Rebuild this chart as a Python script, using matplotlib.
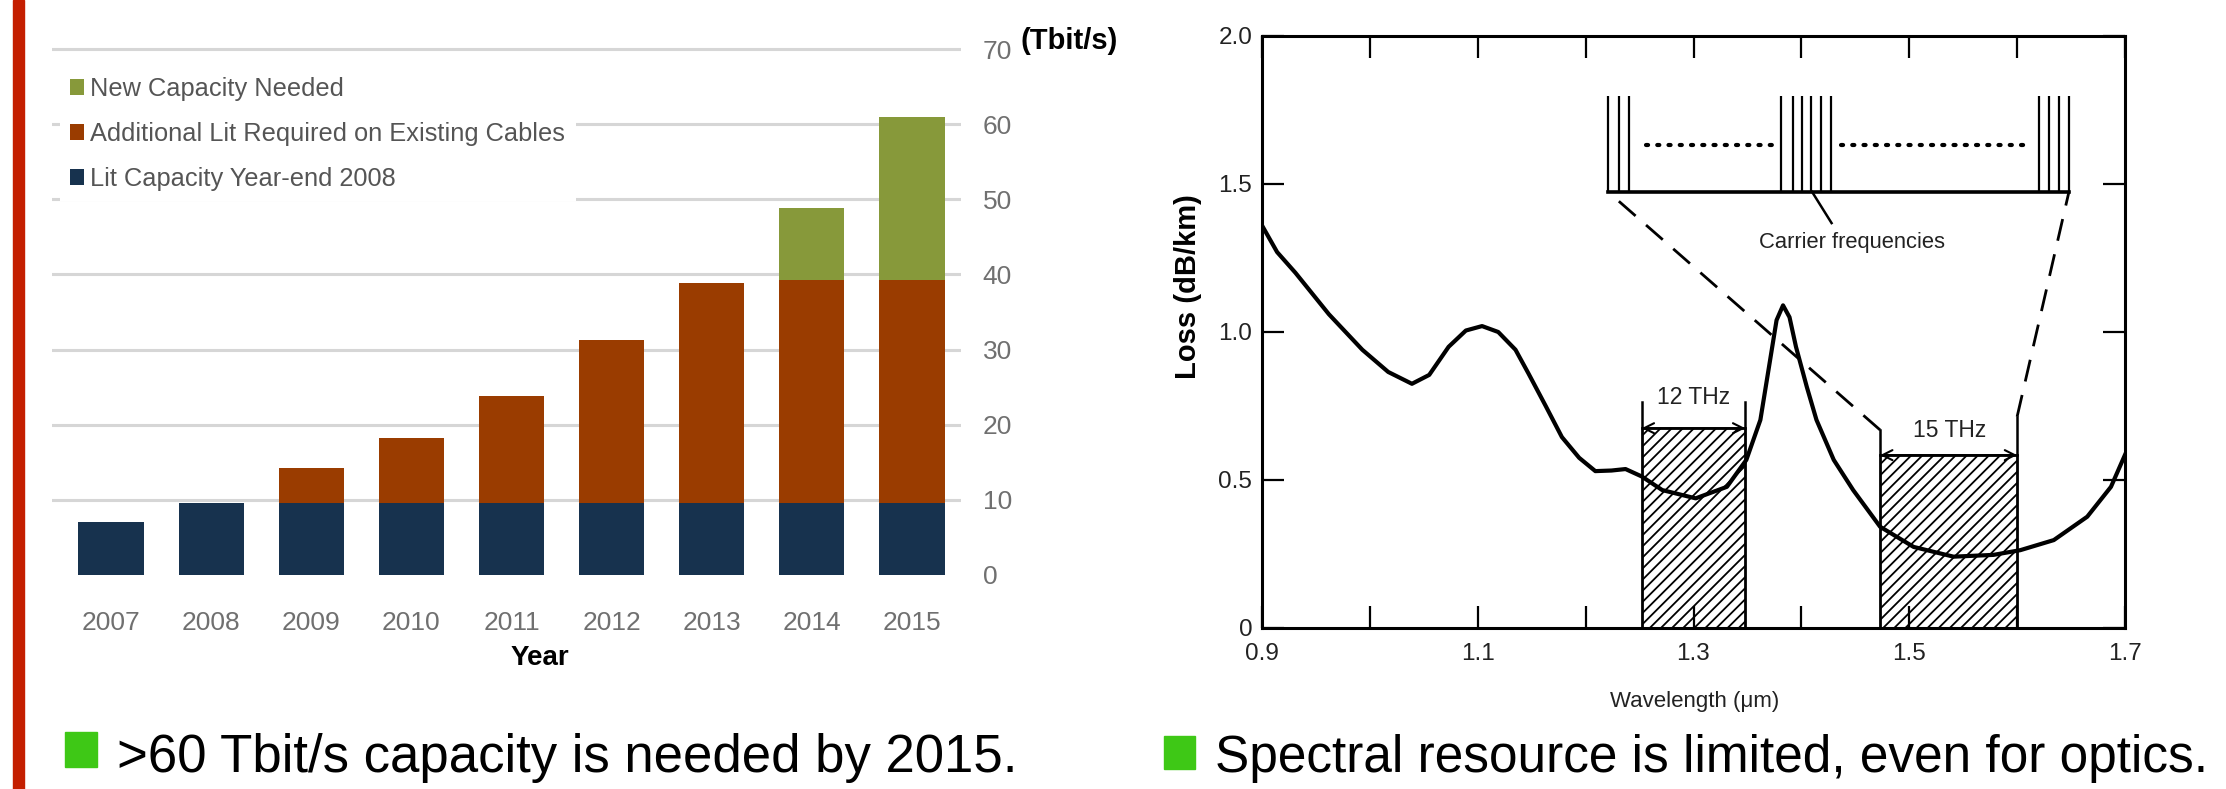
import matplotlib
matplotlib.use('Agg')
import matplotlib.pyplot as plt
from matplotlib.patches import Rectangle

# left chart: submarine cable capacity (Tbit/s)
years = ['2007', '2008', '2009', '2010', '2011', '2012', '2013', '2014', '2015']
lit_2008 = [7.0, 9.6, 9.6, 9.6, 9.6, 9.6, 9.6, 9.6, 9.6]
additional_lit = [0, 0, 4.6, 8.6, 14.2, 21.7, 29.2, 29.6, 29.6]
new_capacity = [0, 0, 0, 0, 0, 0, 0, 9.6, 21.8]
cap_ticks = [0, 10, 20, 30, 40, 50, 60, 70]

# right chart: fiber loss vs wavelength
wavelength = [0.900, 0.914, 0.931, 0.962, 0.993, 1.017, 1.039, 1.055, 1.073, 1.089,
              1.104, 1.119, 1.135, 1.147, 1.163, 1.178, 1.194, 1.209, 1.224, 1.237,
              1.252, 1.271, 1.302, 1.331, 1.349, 1.362, 1.371, 1.377, 1.383, 1.389,
              1.395, 1.405, 1.414, 1.430, 1.448, 1.473, 1.504, 1.541, 1.578, 1.603,
              1.634, 1.665, 1.687, 1.700]
loss = [1.36, 1.27, 1.20, 1.06, 0.94, 0.865, 0.825, 0.855, 0.95, 1.005,
        1.02, 1.0, 0.94, 0.86, 0.75, 0.645, 0.575, 0.53, 0.532, 0.537,
        0.512, 0.466, 0.438, 0.477, 0.568, 0.703, 0.905, 1.04, 1.09, 1.05,
        0.95, 0.815, 0.703, 0.568, 0.466, 0.342, 0.274, 0.241, 0.247, 0.263,
        0.297, 0.376, 0.477, 0.585]
band_left = [1.252, 1.473]
band_right = [1.348, 1.600]
band_top = [0.675, 0.584]
band_labels = ['12 THz', '15 THz']
band_label_xy = [(1.300, 0.778), (1.537, 0.668)]
bracket_top = [(0.764, 0.764), (0.669, 0.714)]
carriers = [1.221, 1.231, 1.240,
            1.381, 1.392, 1.401, 1.409, 1.418, 1.427,
            1.620, 1.630, 1.639, 1.648]
comb_base, comb_top, comb_dots = 1.473, 1.797, 1.632
dot_runs = [(1.256, 1.374), (1.437, 1.609)]

font = 'Liberation Sans'

W, H = 2226, 789
def fx(px):
    return px / W
def fy(py):
    return 1 - py / H

fig = plt.figure(figsize=(W / 100, H / 100), dpi=100)
plt.rcParams['hatch.linewidth'] = 1.3
plt.rcParams['font.family'] = font

# ---- left: stacked bars ----
ax1 = fig.add_axes([fx(52), fy(575), (961 - 52) / W, (575 - 34) / H])
x = list(range(len(years)))
b1 = ax1.bar(x, lit_2008, width=0.65, color='#17324e', linewidth=0)
b2 = ax1.bar(x, additional_lit, width=0.65, bottom=lit_2008, color='#9a3c00', linewidth=0)
base2 = [a + b for a, b in zip(lit_2008, additional_lit)]
b3 = ax1.bar(x, new_capacity, width=0.65, bottom=base2, color='#87993a', linewidth=0)
ax1.set_xlim(-0.589, 8.489)
ax1.set_ylim(0, 72)
ax1.set_axisbelow(True)
ax1.yaxis.tick_right()
ax1.set_yticks(cap_ticks)
ax1.set_xticks(x)
ax1.set_xticklabels(years)
ax1.yaxis.grid(True, color='#d6d6d6', linewidth=2.2)
ax1.get_ygridlines()[0].set_visible(False)
for s in ax1.spines.values():
    s.set_visible(False)
ax1.tick_params(axis='y', length=0, pad=15.5, labelsize=19, labelcolor='#707070')
ax1.tick_params(axis='x', length=0, pad=26, labelsize=19, labelcolor='#707070')
leg = ax1.legend([b3, b2, b1],
                 ['New Capacity Needed', 'Additional Lit Required on Existing Cables',
                  'Lit Capacity Year-end 2008'],
                 loc='upper left', bbox_to_anchor=(fx(60), fy(67)),
                 bbox_transform=fig.transFigure, borderaxespad=0,
                 prop={'size': 18.3}, frameon=True, facecolor='white',
                 edgecolor='none', framealpha=1, fancybox=False,
                 handlelength=0.55, handleheight=0.6, handletextpad=0.25,
                 labelspacing=0.82, borderpad=0.4)
for t in leg.get_texts():
    t.set_color('#555555')
fig.text(fx(1021), fy(41), '(Tbit/s)', fontsize=21, fontweight='bold', va='center')
fig.text(fx(540), fy(658), 'Year', fontsize=20, fontweight='bold',
         ha='center', va='center')

# ---- right: loss spectrum ----
ax2 = fig.add_axes([fx(1262), fy(628), (2125 - 1262) / W, (628 - 36) / H])
ax2.set_xlim(0.9, 1.7)
ax2.set_ylim(0, 2.0)
for s in ax2.spines.values():
    s.set_linewidth(2.2)
ax2.set_xticks([0.9, 1.0, 1.1, 1.2, 1.3, 1.4, 1.5, 1.6, 1.7])
ax2.set_xticklabels(['0.9', '', '1.1', '', '1.3', '', '1.5', '', '1.7'])
ax2.set_yticks([0, 0.5, 1.0, 1.5, 2.0])
ax2.set_yticklabels(['0', '0.5', '1.0', '1.5', '2.0'])
ax2.tick_params(direction='in', length=16, width=1.6, top=True, right=True,
                labelsize=17.5, labelcolor='#222222')
ax2.tick_params(axis='x', pad=11)
ax2.tick_params(axis='y', pad=7)

ax2.bar(band_left, band_top, width=[r - l for l, r in zip(band_left, band_right)],
        align='edge', facecolor='white', edgecolor='black', hatch='///', linewidth=2)
ax2.plot(wavelength, loss, color='black', linewidth=3, solid_joinstyle='round', zorder=4)

for l, r, t, (bl, br), lab, (lx, ly) in zip(band_left, band_right, band_top,
                                             bracket_top, band_labels, band_label_xy):
    ax2.plot([l, l], [t, bl], color='black', linewidth=1.8)
    ax2.plot([r, r], [t, br], color='black', linewidth=1.8)
    ax2.annotate('', xy=(r, t), xytext=(l, t),
                 arrowprops=dict(arrowstyle='<->', lw=1.5, mutation_scale=18,
                                 shrinkA=0, shrinkB=0, color='black'))
    ax2.text(lx, ly, lab, fontsize=16.5, ha='center', va='center', color='#222222')

# zoom lines from the 15 THz band to the carrier comb
ax2.plot([band_left[1], carriers[0]], [bracket_top[1][0], comb_base],
         color='black', linewidth=2, dashes=(8, 5))
ax2.plot([band_right[1], carriers[-1]], [bracket_top[1][1], comb_base],
         color='black', linewidth=2, dashes=(8, 5))

# carrier comb
ax2.plot([carriers[0], carriers[-1]], [comb_base, comb_base], color='black', linewidth=2.6)
ax2.vlines(carriers, comb_base, comb_top, color='black', linewidth=1.6)
for a, b in dot_runs:
    ax2.plot([a, b], [comb_dots, comb_dots], color='black', linewidth=3,
             linestyle=(0, (0.5, 2.2)), dash_capstyle='round')
ax2.plot([1.410, 1.428], [comb_base, 1.368], color='black', linewidth=1.8)
ax2.text(1.447, 1.304, 'Carrier frequencies', fontsize=15.8,
         ha='center', va='center', color='#222222')

fig.text(fx(1188), fy(287), 'Loss (dB/km)', fontsize=21, fontweight='bold',
         rotation=90, ha='center', va='center')
fig.text(fx(1695), fy(702), 'Wavelength (\u03bcm)', fontsize=16,
         ha='center', va='center', color='#222222')

# ---- slide decorations ----
fig.add_artist(Rectangle((fx(13), 0), 11 / W, 1, transform=fig.transFigure,
                         color='#c41e00'))
fig.add_artist(Rectangle((fx(65), fy(767)), 32 / W, 35 / H, transform=fig.transFigure,
                         color='#3ec816'))
fig.add_artist(Rectangle((fx(1164), fy(769)), 31 / W, 33 / H, transform=fig.transFigure,
                         color='#3ec816'))
fig.text(fx(117), fy(772), '>60 Tbit/s capacity is needed by 2015.',
         fontsize=38, va='baseline')
fig.text(fx(1215), fy(772), 'Spectral resource is limited, even for optics.',
         fontsize=37, va='baseline')

fig.savefig('out.png', dpi=100)
